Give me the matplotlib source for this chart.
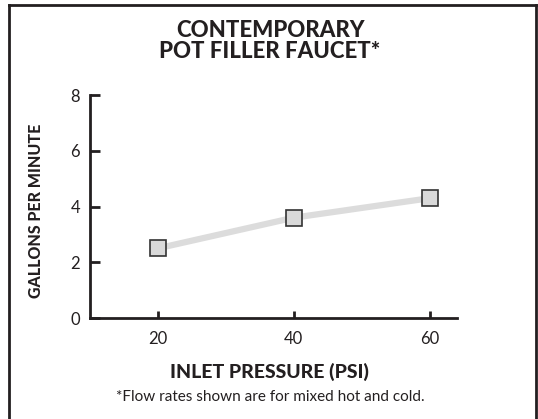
import matplotlib.pyplot as plt
from matplotlib.lines import Line2D

# Data
pressure = [20, 40, 60]
flow = [2.5, 3.6, 4.3]
x_ticks = [20, 40, 60]
y_ticks = [0, 2, 4, 6, 8]

title = "CONTEMPORARY\nPOT FILLER FAUCET*"
x_label = "INLET PRESSURE (PSI)"
y_label = "GALLONS PER MINUTE"
note = "*Flow rates shown are for mixed hot and cold."

ink = "#231f20"
plt.rcParams['font.family'] = ['Lato', 'DejaVu Sans']

fig = plt.figure(figsize=(5.38, 4.19), dpi=100)
ax = fig.add_axes([0.167, 0.241, 0.682, 0.532])

ax.plot(pressure, flow, color="#dcdcdc", lw=4.5, zorder=2,
        marker="s", ms=12, mfc="#d9d9d9", mec="#333333", mew=1.2)

ax.set_xlim(10, 64)
ax.set_ylim(0, 8)
ax.set_xticks(x_ticks)
ax.set_yticks(y_ticks)
ax.tick_params(direction="in", length=7, width=2, color=ink, labelsize=12,
               labelcolor=ink)
ax.tick_params(axis="x", length=5, pad=9)
ax.tick_params(axis="y", pad=7)

for side in ["top", "right"]:
    ax.spines[side].set_visible(False)
for side in ["left", "bottom"]:
    ax.spines[side].set_linewidth(2)
    ax.spines[side].set_color(ink)

fig.text(0.502, 0.903, title, ha="center", va="center", fontsize=16,
         fontweight="black", color=ink, linespacing=1.0)
fig.text(0.067, 0.497, y_label, rotation=90, ha="center", va="center",
         fontsize=11.5, fontweight="black", color=ink)
fig.text(0.5, 0.112, x_label, ha="center", va="center", fontsize=14,
         fontweight="black", color=ink)
fig.text(0.503, 0.052, note, ha="center", va="center", fontsize=11,
         color=ink)

# frame around the card
fig.add_artist(Line2D([9 / 538, 9 / 538], [0, 1 - 5 / 419], color=ink, lw=2))
fig.add_artist(Line2D([536 / 538, 536 / 538], [0, 1 - 5 / 419], color=ink, lw=2))
fig.add_artist(Line2D([9 / 538, 536 / 538], [1 - 5 / 419, 1 - 5 / 419], color=ink, lw=2))

fig.savefig("out.png", dpi=100)
